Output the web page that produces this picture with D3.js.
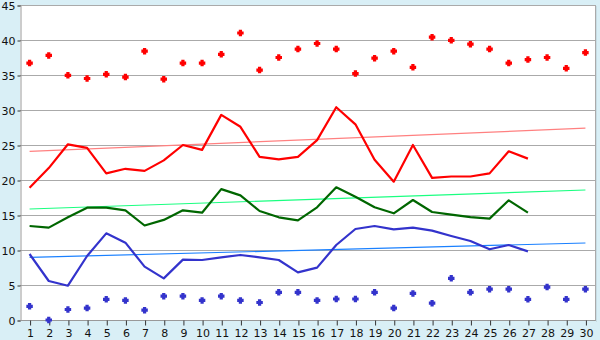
<!DOCTYPE html>
<html>
<head>
<meta charset="utf-8">
<script src="https://cdn.jsdelivr.net/npm/d3@7/dist/d3.min.js"></script>
<style>
  html, body { margin: 0; padding: 0; background: #d9eff6; }
  svg { display: block; }
  .tick text { font-family: "DejaVu Sans", Verdana, sans-serif; font-size: 11px; fill: #111; }
</style>
</head>
<body>
<svg id="chart" width="600" height="340"></svg>
<script>
// Days of the month
const days = d3.range(1, 31);

// Daily maximum (red markers) and minimum (blue markers)
const maxPoints = [36.7, 37.8, 34.95, 34.5, 35.1, 34.7, 38.4, 34.4, 36.7, 36.7,
                   37.95, 41.0, 35.7, 37.5, 38.7, 39.5, 38.7, 35.2, 37.4, 38.4,
                   36.1, 40.4, 39.95, 39.4, 38.7, 36.7, 37.2, 37.5, 35.95, 38.2];
const minPoints = [1.95, 0.0, 1.5, 1.7, 2.95, 2.8, 1.4, 3.4, 3.4, 2.8,
                   3.4, 2.8, 2.5, 3.95, 3.95, 2.8, 3.0, 3.0, 3.95, 1.7,
                   3.8, 2.4, 5.95, 3.95, 4.4, 4.4, 2.95, 4.7, 2.95, 4.4];

// Series lines (days 1-27)
const highLine = [18.9, 21.7, 25.1, 24.6, 20.95, 21.6, 21.3, 22.8, 25.0, 24.3,
                  29.3, 27.6, 23.3, 22.95, 23.3, 25.7, 30.4, 27.95, 22.9, 19.76,
                  25.0, 20.3, 20.5, 20.5, 20.95, 24.1, 23.05];
const meanLine = [13.43, 13.2, 14.67, 16.05, 16.05, 15.67, 13.5, 14.3, 15.67, 15.33,
                  18.7, 17.8, 15.57, 14.67, 14.24, 16.1, 18.95, 17.6, 16.1, 15.24,
                  17.14, 15.43, 15.05, 14.7, 14.48, 17.1, 15.33];
const lowLine  = [9.43, 5.57, 4.9, 9.14, 12.38, 11.05, 7.62, 5.95, 8.62, 8.57,
                  8.95, 9.29, 8.95, 8.57, 6.81, 7.48, 10.71, 13.0, 13.43, 12.95,
                  13.19, 12.76, 12.0, 11.29, 10.1, 10.71, 9.81];

// Trend lines: value on day 1 and on day 30
const trendDays = [1, 30];
const highTrend = [24.1, 27.4];
const meanTrend = [15.86, 18.57];
const lowTrend  = [8.95, 11.0];

const yTicks = d3.range(0, 46, 5);

const svg = d3.select("#chart");
const plotLeft = 20, plotRight = 595, plotTop = 5, plotBottom = 320;

const x = d3.scalePoint().domain(days).range([plotLeft, plotRight]).padding(0.5);
const y = d3.scaleLinear().domain([0, 45]).range([plotBottom, plotTop]);

// Plot area
svg.append("rect")
  .attr("x", plotLeft).attr("y", plotTop)
  .attr("width", plotRight - plotLeft).attr("height", plotBottom - plotTop)
  .attr("fill", "#ffffff");

// Horizontal grid
svg.append("g")
  .selectAll("line")
  .data(yTicks)
  .join("line")
  .attr("x1", plotLeft).attr("x2", plotRight)
  .attr("y1", d => y(d) + 0.5).attr("y2", d => y(d) + 0.5)
  .attr("stroke", "#aaaaaa")
  .attr("stroke-width", 1);

// Right border
svg.append("line")
  .attr("x1", plotRight + 0.5).attr("x2", plotRight + 0.5)
  .attr("y1", plotTop).attr("y2", plotBottom + 1)
  .attr("stroke", "#aaaaaa");
svg.append("line")
  .attr("x1", plotRight + 1.5).attr("x2", plotRight + 1.5)
  .attr("y1", plotTop + 1).attr("y2", plotBottom + 2)
  .attr("stroke", "#c8dde4");

// Axes
const yAxis = svg.append("g")
  .attr("transform", `translate(${plotLeft + 0.5},0.5)`)
  .call(d3.axisLeft(y).tickValues(yTicks).tickSize(3).tickPadding(2));
const xAxis = svg.append("g")
  .attr("transform", `translate(0.5,${plotBottom + 0.5})`)
  .call(d3.axisBottom(x).tickSize(5).tickPadding(4));
[yAxis, xAxis].forEach(g => {
  g.select(".domain").attr("stroke", "#999999");
  g.selectAll(".tick line").attr("stroke", "#333333");
});
xAxis.select(".domain").attr("d", `M${plotLeft},0H${plotRight}`);

const line = d3.line()
  .x((d, i) => x(days[i]))
  .y(d => y(d));

const trend = d3.line()
  .x((d, i) => x(trendDays[i]))
  .y(d => y(d));

// Trend lines
[[lowTrend, "#1a80ff"], [meanTrend, "#1aff80"], [highTrend, "#ff8080"]].forEach(([vals, color]) => {
  svg.append("path")
    .datum(vals)
    .attr("d", trend)
    .attr("fill", "none")
    .attr("stroke", color)
    .attr("stroke-width", 1.2);
});

// Series lines
[[lowLine, "#3333cc"], [meanLine, "#006600"], [highLine, "#ff0000"]].forEach(([vals, color]) => {
  svg.append("path")
    .datum(vals)
    .attr("d", line)
    .attr("fill", "none")
    .attr("stroke", color)
    .attr("stroke-width", 2.2)
    .attr("stroke-linejoin", "round");
});

// Stubby plus used for the daily extremes
const stubbyPlus = {
  draw(context, size) {
    const r = Math.sqrt(size) / 2;   // half of the full width
    const a = r * 0.5;               // half of the arm thickness
    context.moveTo(-r, -a);
    context.lineTo(-a, -a);
    context.lineTo(-a, -r);
    context.lineTo(a, -r);
    context.lineTo(a, -a);
    context.lineTo(r, -a);
    context.lineTo(r, a);
    context.lineTo(a, a);
    context.lineTo(a, r);
    context.lineTo(-a, r);
    context.lineTo(-a, a);
    context.lineTo(-r, a);
    context.closePath();
  }
};

// Daily extreme markers
const marker = d3.symbol().type(stubbyPlus).size(42);
[[maxPoints, "#ff0000"], [minPoints, "#3333cc"]].forEach(([vals, color]) => {
  svg.append("g")
    .selectAll("path")
    .data(vals)
    .join("path")
    .attr("transform", (d, i) => `translate(${x(days[i])},${y(d)})`)
    .attr("d", marker)
    .attr("fill", color);
});
</script>
</body>
</html>
